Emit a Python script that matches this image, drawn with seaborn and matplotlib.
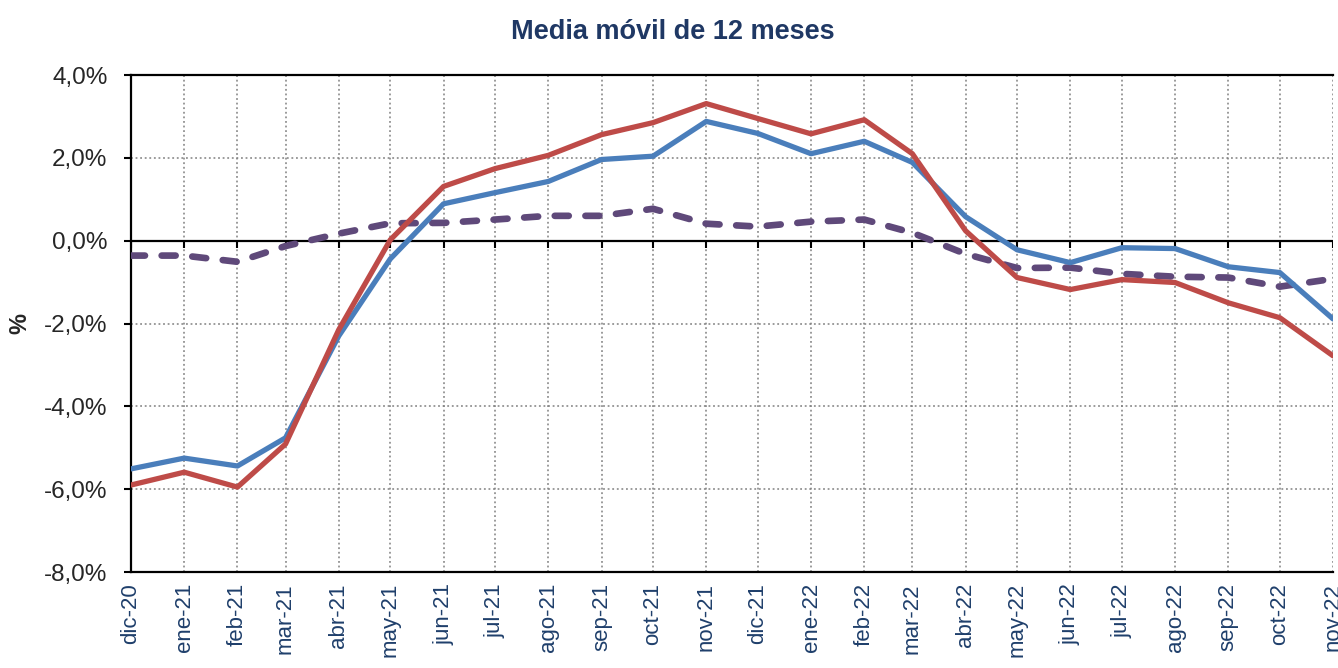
import pandas as pd
import matplotlib.pyplot as plt
import matplotlib.ticker as mticker
import seaborn as sns
import warnings
warnings.filterwarnings("ignore")

meses = ["dic-20", "ene-21", "feb-21", "mar-21", "abr-21", "may-21", "jun-21", "jul-21",
         "ago-21", "sep-21", "oct-21", "nov-21", "dic-21", "ene-22", "feb-22", "mar-22",
         "abr-22", "may-22", "jun-22", "jul-22", "ago-22", "sep-22", "oct-22", "nov-22"]
fechas = pd.date_range("2020-12-01", periods=len(meses), freq="MS")

serie_azul = [-5.51, -5.25, -5.44, -4.76, -2.30, -0.44, 0.89, 1.16, 1.43, 1.96, 2.04, 2.88,
              2.59, 2.10, 2.40, 1.89, 0.58, -0.22, -0.53, -0.17, -0.19, -0.63, -0.77, -1.89]
serie_roja = [-5.90, -5.59, -5.95, -4.91, -2.15, 0.02, 1.31, 1.74, 2.06, 2.56, 2.85, 3.31,
              2.95, 2.58, 2.92, 2.10, 0.24, -0.89, -1.18, -0.94, -1.01, -1.50, -1.86, -2.78]
serie_morada = [-0.36, -0.36, -0.51, -0.13, 0.17, 0.42, 0.43, 0.51, 0.60, 0.60, 0.77, 0.41,
                0.34, 0.46, 0.51, 0.19, -0.32, -0.66, -0.65, -0.80, -0.87, -0.89, -1.11, -0.92]

df = pd.DataFrame({"fecha": fechas, "azul": serie_azul, "roja": serie_roja, "morada": serie_morada})

sns.set_style("white")
plt.rcParams['font.family'] = ['Liberation Sans', 'DejaVu Sans']

fig = plt.figure(figsize=(13.38, 6.68), dpi=100)
ax = fig.add_axes([0.0979, 0.1437, 0.8984, 0.744])

sns.lineplot(data=df, x="fecha", y="morada", ax=ax, color="#5F497A", linewidth=4.8, zorder=3)
ax.lines[-1].set_dashes([2.1, 2.5])
ax.lines[-1].set_dash_capstyle("round")
sns.lineplot(data=df, x="fecha", y="azul", ax=ax, color="#4A7EBB", linewidth=3.8, zorder=4)
sns.lineplot(data=df, x="fecha", y="roja", ax=ax, color="#BE4B48", linewidth=3.8, zorder=5)

ax.set_xlim(fechas[0], fechas[-1])
ax.set_ylim(-8, 4)
ax.set_yticks(range(-8, 5, 2))
ax.yaxis.set_major_formatter(mticker.FuncFormatter(lambda v, p: f"{v:.1f}%".replace(".", ",")))
ax.set_xticks(fechas)
ax.set_xticklabels(meses, rotation=90, color="#1F3F6B", fontsize=16)
ax.tick_params(axis="y", labelsize=17.5, length=5, width=1.5, direction="out", left=True,
               color="black", pad=12)
ax.tick_params(axis="x", length=0, pad=8)

ax.grid(True, linestyle=(0, (1.2, 1.8)), color="#808080", linewidth=1.1)
ax.axhline(0, color="black", linewidth=1.6, zorder=2)
ax.vlines(fechas, -0.18, 0, color="black", linewidth=1.5, zorder=2)

for s in ["left", "top", "bottom"]:
    ax.spines[s].set_color("black")
    ax.spines[s].set_linewidth(1.6)
ax.spines["right"].set_visible(False)

ax.set_xlabel("")
ax.set_ylabel("%", fontsize=17, fontweight="bold")
ax.yaxis.set_label_coords(-0.083, 0.5)
ax.set_title("Media móvil de 12 meses", fontsize=19.5, fontweight="bold", color="#1F3864",
             pad=26, x=0.451)

plt.savefig("out.png", dpi=100)
